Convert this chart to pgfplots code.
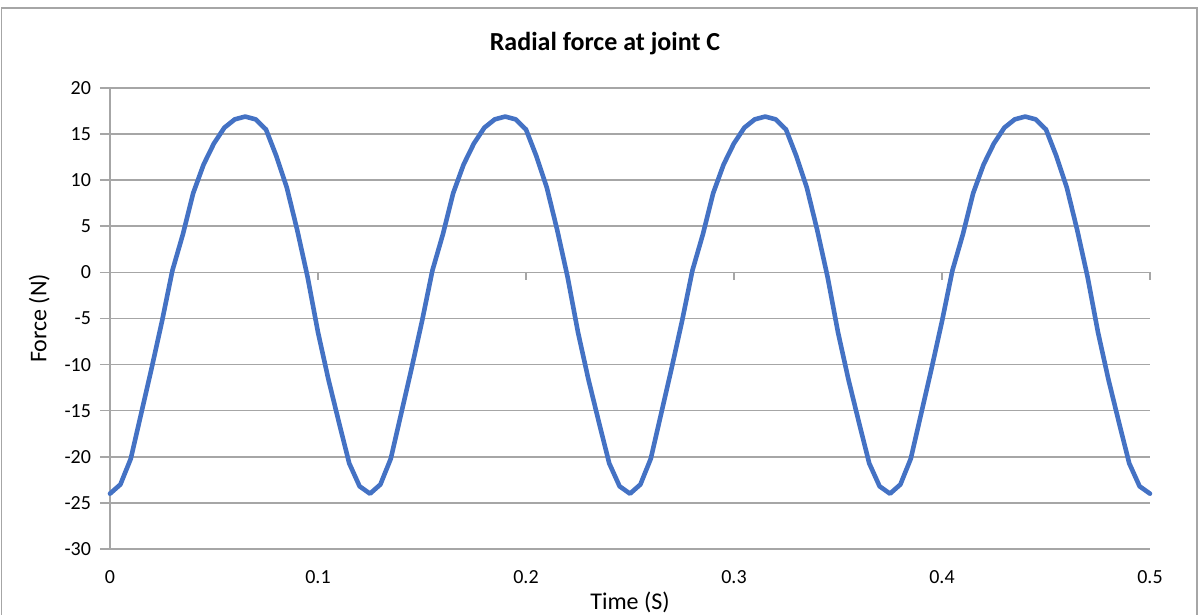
\documentclass[border=0pt]{standalone}
\usepackage{fontspec}
\setmainfont{Carlito}
\usepackage{pgfplots}
\pgfplotsset{compat=1.18}
\definecolor{gridgray}{gray}{0.65}
\definecolor{exblue}{RGB}{68,114,196}
\begin{document}
\begin{tikzpicture}[x=0.5pt,y=0.5pt]
\path[use as bounding box] (0,0) rectangle (1201,615);
\draw[gridgray,line width=0.6pt] (1.5,0) -- (1.5,607) -- (1197,607) -- (1197,0);
\node[font=\bfseries\fontsize{13}{15}\selectfont] at (605,571) {Radial force at joint C};
\begin{axis}[
  at={(55pt,33pt)}, anchor=south west,
  scale only axis, width=520pt, height=230.5pt,
  xmin=0, xmax=0.5, ymin=-30, ymax=20,
  xtick={0,0.1,0.2,0.3,0.4,0.5},
  xticklabels={0,0.1,0.2,0.3,0.4,0.5},
  ytick={-30,-25,...,20},
  axis lines=left,
  axis line style={draw=gridgray,line width=0.8pt,-},
  ymajorgrids,
  grid style={draw=gridgray,line width=0.8pt},
  xtick style={draw=none},
  ytick style={draw=gridgray,line width=0.8pt},
  tick align=outside,
  major tick length=5pt,
  /pgf/number format/assume math mode=true,
  ticklabel style={font=\fontsize{10}{12}\selectfont},
  xticklabel style={yshift=-2pt},
  yticklabel style={xshift=-1pt},
  xlabel={Time (S)}, ylabel={Force (N)},
  label style={font=\fontsize{12}{14}\selectfont},
  xlabel style={yshift=2.5pt},
  ylabel style={yshift=0.5pt},
  clip=false,
]
\draw[gridgray,line width=0.8pt] (axis cs:0,0) -- (axis cs:0.5,0);
\draw[gridgray,line width=0.8pt] (axis cs:0.1,0) -- ([yshift=-4pt]axis cs:0.1,0);
\draw[gridgray,line width=0.8pt] (axis cs:0.2,0) -- ([yshift=-4pt]axis cs:0.2,0);
\draw[gridgray,line width=0.8pt] (axis cs:0.3,0) -- ([yshift=-4pt]axis cs:0.3,0);
\draw[gridgray,line width=0.8pt] (axis cs:0.4,0) -- ([yshift=-4pt]axis cs:0.4,0);
\draw[gridgray,line width=0.8pt] (axis cs:0.5,0) -- ([yshift=-4pt]axis cs:0.5,0);
\addplot[exblue, line width=2.3pt, line join=round, line cap=round, mark=none] coordinates {
(0,-24.0) (0.005,-23.0) (0.01,-20.2) (0.015,-15.3) (0.02,-10.4) (0.025,-5.3) (0.03,0.2) (0.035,4.1) (0.04,8.6) (0.045,11.7) (0.05,14.0) (0.055,15.7) (0.06,16.6) (0.065,16.9) (0.07,16.6) (0.075,15.5) (0.08,12.6) (0.085,9.2) (0.09,4.6) (0.095,-0.5) (0.1,-6.5) (0.105,-11.6) (0.11,-16.2) (0.115,-20.7) (0.12,-23.2) (0.125,-24.0)
(0.13,-23.0) (0.135,-20.2) (0.14,-15.3) (0.145,-10.4) (0.15,-5.3) (0.155,0.2) (0.16,4.1) (0.165,8.6) (0.17,11.7) (0.175,14.0) (0.18,15.7) (0.185,16.6) (0.19,16.9) (0.195,16.6) (0.2,15.5) (0.205,12.6) (0.21,9.2) (0.215,4.6) (0.22,-0.5) (0.225,-6.5) (0.23,-11.6) (0.235,-16.2) (0.24,-20.7) (0.245,-23.2) (0.25,-24.0)
(0.255,-23.0) (0.26,-20.2) (0.265,-15.3) (0.27,-10.4) (0.275,-5.3) (0.28,0.2) (0.285,4.1) (0.29,8.6) (0.295,11.7) (0.3,14.0) (0.305,15.7) (0.31,16.6) (0.315,16.9) (0.32,16.6) (0.325,15.5) (0.33,12.6) (0.335,9.2) (0.34,4.6) (0.345,-0.5) (0.35,-6.5) (0.355,-11.6) (0.36,-16.2) (0.365,-20.7) (0.37,-23.2) (0.375,-24.0)
(0.38,-23.0) (0.385,-20.2) (0.39,-15.3) (0.395,-10.4) (0.4,-5.3) (0.405,0.2) (0.41,4.1) (0.415,8.6) (0.42,11.7) (0.425,14.0) (0.43,15.7) (0.435,16.6) (0.44,16.9) (0.445,16.6) (0.45,15.5) (0.455,12.6) (0.46,9.2) (0.465,4.6) (0.47,-0.5) (0.475,-6.5) (0.48,-11.6) (0.485,-16.2) (0.49,-20.7) (0.495,-23.2) (0.5,-24.0)
};
\end{axis}
\end{tikzpicture}
\end{document}
